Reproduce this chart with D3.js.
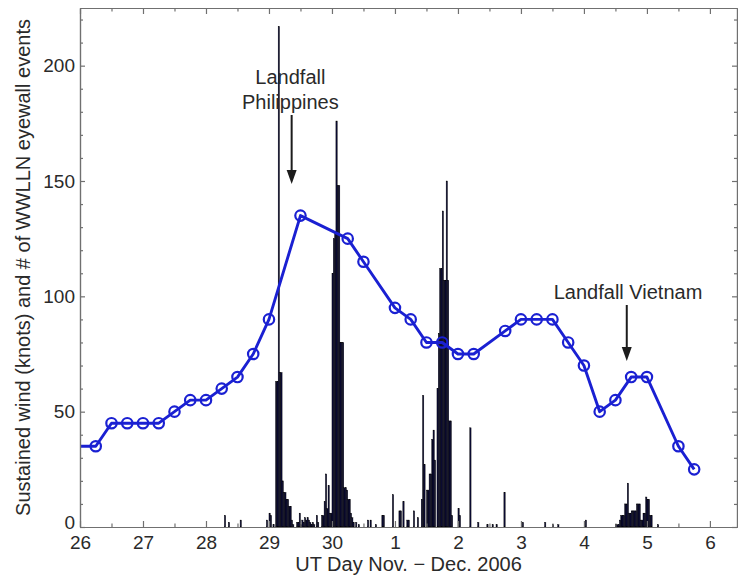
<!DOCTYPE html>
<html>
<head>
<meta charset="utf-8">
<script src="https://cdn.jsdelivr.net/npm/d3@7/dist/d3.min.js"></script>
<style>
  html, body { margin: 0; padding: 0; background: #fff; }
  svg { display: block; font-family: "Liberation Sans", Arial, Helvetica, sans-serif; }
</style>
</head>
<body>
<svg id="chart" width="738" height="579"></svg>
<script>
// Typhoon Durian, 26 Nov - 6 Dec 2006.
// Time axis: days since 26 Nov 2006 00 UT.

// Best-track sustained wind (knots)
const windTime  = [-0.25, 0.25, 0.5, 0.75, 1.0, 1.25, 1.5, 1.75, 2.0, 2.25, 2.5, 2.75, 3.0, 3.5,
                   4.25, 4.5, 5.0, 5.25, 5.5, 5.75, 6.0, 6.25, 6.75, 7.0, 7.25, 7.5, 7.75, 8.0,
                   8.25, 8.5, 8.75, 9.0, 9.5, 9.75];
const windKnots = [35, 35, 45, 45, 45, 45, 50, 55, 55, 60, 65, 75, 90, 135,
                   125, 115, 95, 90, 80, 80, 75, 75, 85, 90, 90, 90, 80, 70,
                   50, 55, 65, 65, 35, 25];

// WWLLN eyewall lightning: half-hour bins (bin start, hours since 26 Nov 00 UT)
const eventHour  = [55, 56.5, 61, 71, 72, 72.5, 73.5, 74.5, 75, 75.5, 76, 76.5, 77, 77.5, 78, 78.5,
                    79, 79.5, 80, 80.5, 81, 82.5, 83, 83.5, 84, 84.5, 85, 85.5, 86, 86.5, 87, 87.5,
                    88, 88.5, 89, 90, 90.5, 92, 92.5, 93, 93.5, 94, 94.5, 95, 95.5, 96, 96.5, 97,
                    97.5, 98, 98.5, 99, 99.5, 100, 100.5, 101, 101.5, 102, 102.5, 103, 103.5, 104,
                    105, 106, 109.5, 110.5, 112.5, 115, 115.5, 119, 121.5, 122, 123, 124.5, 125,
                    127, 128.5, 130, 130.5, 131, 132, 132.5, 133, 133.5, 134, 134.5, 135, 136,
                    136.5, 137, 137.5, 138, 138.5, 139, 139.5, 140, 140.5, 141, 141.5, 144, 144.5,
                    148.5, 151.5, 155, 157, 158.5, 161.5, 168.5, 177, 180, 182, 192.5, 204, 204.5,
                    205, 205.5, 206, 206.5, 207, 207.5, 208, 208.5, 209, 209.5, 210, 210.5, 211,
                    211.5, 212, 212.5, 213, 213.5, 214, 214.5, 215, 215.5, 216, 216.5, 217, 217.5, 220];
const eventCount = [5, 2, 3, 3, 6, 5, 1, 63, 63, 217, 67, 67, 20, 15, 15, 12,
                    12, 9, 9, 3, 1, 2, 2, 6, 1, 3, 2, 4, 3, 4, 3, 2,
                    1, 2, 1, 5, 2, 5, 5, 11, 23, 8, 18, 6, 6, 110, 125, 128,
                    176, 148, 148, 80, 80, 80, 17, 17, 16, 12, 12, 6, 4, 2,
                    2, 1, 3, 3, 1, 5, 5, 14, 7, 7, 11, 3, 3,
                    7, 4, 12, 57, 27, 16, 16, 23, 23, 38, 42, 29, 60,
                    84, 112, 112, 137, 107, 107, 150, 107, 46, 46, 5, 8, 5,
                    43, 2, 1, 1, 1, 15, 2, 2, 1, 1, 3, 1, 1,
                    1, 3, 5, 5, 5, 10, 10, 19, 6, 6, 7, 7, 7,
                    7, 10, 10, 10, 3, 3, 6, 6, 13, 12, 12, 5, 5, 1];
const binHours = 0.5;

// Axis ticks
const xTickDays   = [0, 1, 2, 3, 4, 5, 6, 7, 8, 9, 10];
const xTickLabels = ["26", "27", "28", "29", "30", "1", "2", "3", "4", "5", "6"];
const yTicks      = [0, 50, 100, 150, 200];

// Annotations
const landfalls = [
  { lines: ["Landfall", "Philippines"], day: 3.36, textDay: 3.34, y0: 115, y1: 184 },
  { lines: ["Landfall Vietnam"],        day: 8.68, textDay: 8.70, y0: 305, y1: 361 }
];

const svg = d3.select("#chart");
const margin = { left: 80, right: 1, top: 8, bottom: 52 };
const W = 738, H = 579;

const x = d3.scaleLinear().domain([0, 10.43]).range([margin.left, W - margin.right]);
const y = d3.scaleLinear().domain([0, 225]).range([H - margin.bottom, margin.top]);

const axisColor = "#707070";
const textColor = "#2a2a2a";

svg.append("defs").append("clipPath").attr("id", "plotClip")
  .append("rect")
  .attr("x", x(0)).attr("y", y(225))
  .attr("width", x(10.43) - x(0)).attr("height", y(0) - y(225));

const plot = svg.append("g").attr("clip-path", "url(#plotClip)");

// Lightning histogram
const barColor = "#0b0b36";
plot.append("g").selectAll("rect")
  .data(eventHour.map((h, i) => ({ h, c: eventCount[i] })))
  .join("rect")
  .attr("x", d => x(d.h / 24))
  .attr("width", d => Math.max(0.8, x((d.h + binHours) / 24) - x(d.h / 24)))
  .attr("y", d => y(d.c))
  .attr("height", d => y(0) - y(d.c))
  .attr("fill", barColor)
  .attr("stroke", "#000")
  .attr("stroke-width", 0.4);

// Wind line with circle markers
const windPts = windTime.map((t, i) => ({ t, v: windKnots[i] }));
const blue = "#1a20d2";
plot.append("path")
  .datum(windPts)
  .attr("fill", "none")
  .attr("stroke", blue)
  .attr("stroke-width", 2.9)
  .attr("stroke-linejoin", "round")
  .attr("d", d3.line().x(d => x(d.t)).y(d => y(d.v)));

plot.append("g").selectAll("circle")
  .data(windPts)
  .join("circle")
  .attr("cx", d => x(d.t))
  .attr("cy", d => y(d.v))
  .attr("r", 5.2)
  .attr("fill", "none")
  .attr("stroke", blue)
  .attr("stroke-width", 2.2);

// Axes: box with inward ticks
const minorX = d3.range(0.5, 10.43, 1);
const minorY = d3.range(10, 225, 10).filter(v => v % 50 !== 0);

function styleAxis(g) {
  g.selectAll("path.domain").attr("stroke", axisColor).attr("stroke-width", 1.2);
  g.selectAll(".tick line").attr("stroke", axisColor).attr("stroke-width", 1.2);
  g.selectAll("text").attr("fill", textColor).attr("font-size", 19)
    .attr("font-family", "'Liberation Sans', Arial, sans-serif");
}

const gBottom = svg.append("g").attr("transform", `translate(0,${y(0)})`)
  .call(d3.axisBottom(x).tickValues(xTickDays)
    .tickFormat((d, i) => xTickLabels[i])
    .tickSizeInner(-6).tickSizeOuter(0).tickPadding(9));
gBottom.call(styleAxis);

svg.append("g").attr("transform", `translate(0,${y(0)})`)
  .call(d3.axisBottom(x).tickValues(minorX).tickFormat("")
    .tickSizeInner(-3.5).tickSizeOuter(0)).call(styleAxis);

const gTop = svg.append("g").attr("transform", `translate(0,${y(225)})`)
  .call(d3.axisTop(x).tickValues(xTickDays).tickFormat("")
    .tickSizeInner(-6).tickSizeOuter(0));
gTop.call(styleAxis);
svg.append("g").attr("transform", `translate(0,${y(225)})`)
  .call(d3.axisTop(x).tickValues(minorX).tickFormat("")
    .tickSizeInner(-3.5).tickSizeOuter(0)).call(styleAxis);

const gLeft = svg.append("g").attr("transform", `translate(${x(0)},0)`)
  .call(d3.axisLeft(y).tickValues(yTicks).tickFormat(d3.format("d"))
    .tickSizeInner(-5).tickSizeOuter(0).tickPadding(5));
gLeft.call(styleAxis);
// the zero label sits just above the x-axis labels
gLeft.selectAll(".tick text").filter(d => d === 0).attr("dy", "0.1em");

svg.append("g").attr("transform", `translate(${x(0)},0)`)
  .call(d3.axisLeft(y).tickValues(minorY).tickFormat("")
    .tickSizeInner(-3).tickSizeOuter(0)).call(styleAxis);

svg.append("g").attr("transform", `translate(${x(10.43)},0)`)
  .call(d3.axisRight(y).tickValues(yTicks).tickFormat("")
    .tickSizeInner(-5).tickSizeOuter(0)).call(styleAxis);
svg.append("g").attr("transform", `translate(${x(10.43)},0)`)
  .call(d3.axisRight(y).tickValues(minorY).tickFormat("")
    .tickSizeInner(-3).tickSizeOuter(0)).call(styleAxis);

// Axis titles
svg.append("text")
  .attr("x", (x(0) + x(10.43)) / 2).attr("y", 571)
  .attr("text-anchor", "middle")
  .attr("font-size", 20).attr("fill", textColor)
  .text("UT Day Nov. \u2212 Dec. 2006");

svg.append("text")
  .attr("transform", `translate(30,${(y(0) + y(225)) / 2}) rotate(-90)`)
  .attr("text-anchor", "middle")
  .attr("font-size", 20).attr("fill", textColor)
  .text("Sustained wind (knots) and # of WWLLN eyewall events");

// Landfall annotations with arrows
const arrowColor = "#1c1c1c";
landfalls.forEach(a => {
  const ax = x(a.day);
  const tx = x(a.textDay);
  const nLines = a.lines.length;
  a.lines.forEach((ln, i) => {
    svg.append("text")
      .attr("x", tx)
      .attr("y", a.y0 - 6 - (nLines - 1 - i) * 25)
      .attr("text-anchor", "middle")
      .attr("font-size", 20).attr("fill", textColor)
      .text(ln);
  });
  svg.append("line")
    .attr("x1", ax).attr("x2", ax)
    .attr("y1", a.y0).attr("y2", a.y1 - 10)
    .attr("stroke", arrowColor).attr("stroke-width", 2);
  svg.append("path")
    .attr("d", `M${ax - 5},${a.y1 - 14} L${ax + 5},${a.y1 - 14} L${ax},${a.y1} Z`)
    .attr("fill", arrowColor);
});
</script>
</body>
</html>
